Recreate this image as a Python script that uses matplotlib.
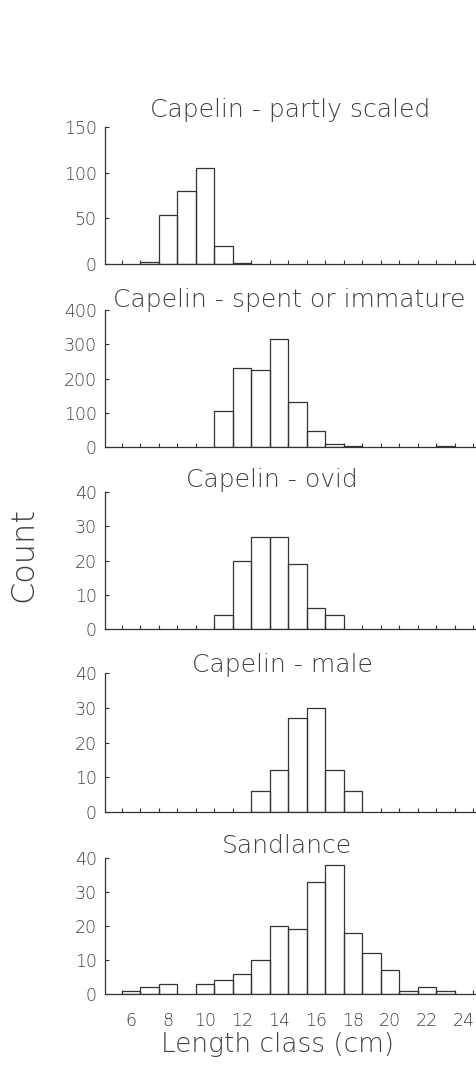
import numpy as np
import matplotlib
matplotlib.use("Agg")
import matplotlib.pyplot as plt

# ── data: counts per 1-cm length class ────────────────────────────────────────
LENGTH_CLASS = np.arange(6, 24)   # 6 .. 23 cm

PARTLY_SCALED = [0, 2, 54, 80, 105, 20, 1, 0, 0, 0, 0, 0, 0, 0, 0, 0, 0, 0]
SPENT_IMMATURE = [0, 0, 0, 0, 0, 105, 232, 226, 314, 130, 47, 8, 2, 0, 0, 0, 0, 2]
OVID = [0, 0, 0, 0, 0, 4, 20, 27, 27, 19, 6, 4, 0, 0, 0, 0, 0, 0]
MALE = [0, 0, 0, 0, 0, 0, 0, 6, 12, 27, 30, 12, 6, 0, 0, 0, 0, 0]
SANDLANCE = [1, 2, 3, 0, 3, 4, 6, 10, 20, 19, 33, 38, 18, 12, 7, 1, 2, 1]

TITLES = ["Capelin - partly scaled", "Capelin - spent or immature",
          "Capelin - ovid", "Capelin - male", "Sandlance"]
SERIES = [PARTLY_SCALED, SPENT_IMMATURE, OVID, MALE, SANDLANCE]
YMAX = [150, 400, 40, 40, 40]
YSTEP = [50, 100, 10, 10, 10]
XTICKS = [6, 8, 10, 12, 14, 16, 18, 20, 22, 24]

# ── layout (pixel coords of the 477 x 1081 reference) ────────────────────────
W, H = 477, 1081
LEFT, RIGHT = 105, 475
PANELS = [(127, 264), (310, 447), (492, 629), (673, 812), (858, 994)]
TITLE_POS = [(290, 117), (289, 307), (272, 487), (282, 672), (287, 853)]

TXT = "#3f3f3f"
LINE = "#333333"

plt.rcParams["font.family"] = ["DejaVu Sans"]
plt.rcParams["font.weight"] = "light"

fig = plt.figure(figsize=(W / 100, H / 100), dpi=100)

for i, (vals, title) in enumerate(zip(SERIES, TITLES)):
    top, bot = PANELS[i]
    ax = fig.add_axes([LEFT / W, 1 - bot / H, (RIGHT - LEFT) / W, (bot - top) / H])

    vals = np.asarray(vals)
    keep = vals > 0
    ax.bar(LENGTH_CLASS[keep], vals[keep], width=1.0, fill=False,
           edgecolor=LINE, linewidth=0.9)

    ax.set_xlim(4.6, 24.6)
    ax.set_ylim(0, YMAX[i])
    ax.set_yticks(np.arange(0, YMAX[i] + 1, YSTEP[i]))

    for s in ["top", "right"]:
        ax.spines[s].set_visible(False)
    for s in ["left", "bottom"]:
        ax.spines[s].set_color(LINE)
        ax.spines[s].set_linewidth(0.9)

    # small inward ticks on the class edges
    ax.set_xticks(np.arange(5.5, 25, 1.0), minor=True)
    ax.tick_params(axis="x", which="minor", direction="in", length=3,
                   width=0.8, color=LINE)
    ax.tick_params(axis="y", direction="in", length=3, width=0.8,
                   color=LINE, labelsize=12.5, labelcolor=TXT, pad=6)

    if i == len(SERIES) - 1:
        ax.set_xticks(XTICKS)
        ax.tick_params(axis="x", which="major", length=0, pad=13,
                       labelsize=12.5, labelcolor=TXT)
    else:
        ax.set_xticks([])

    tx, ty = TITLE_POS[i]
    fig.text(tx / W, 1 - ty / H, title, ha="center", va="baseline",
             fontsize=18, color=TXT)

fig.text(23 / W, 1 - 555 / H, "Count", rotation=90, ha="center", va="center",
         fontsize=23, color=TXT)
fig.text(278 / W, 1 - 1052 / H, "Length class (cm)", ha="center", va="baseline",
         fontsize=19, color=TXT)

fig.savefig("out.png", dpi=100, facecolor="white")
